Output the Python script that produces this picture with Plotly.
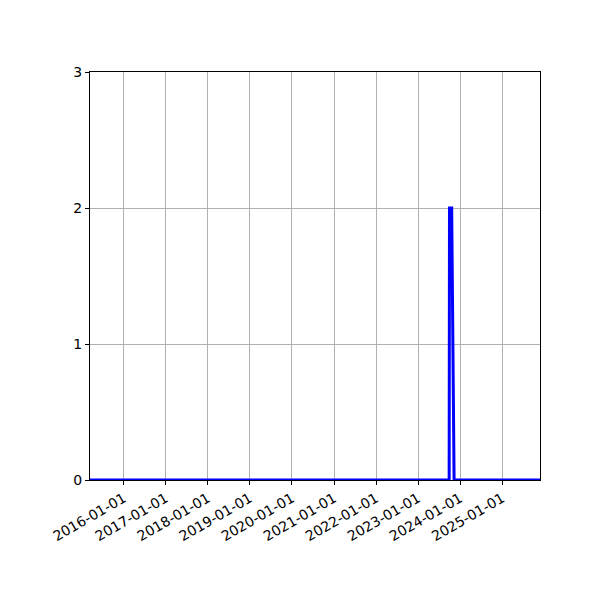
import plotly.graph_objects as go

# data
dates = ["2015-03-15", "2023-09-28", "2023-10-01", "2023-10-20", "2023-11-10", "2025-11-25"]
counts = [0, 0, 2, 2, 0, 0]
tick_dates = [f"{y}-01-01" for y in range(2016, 2026)]
y_ticks = [0, 1, 2, 3]

fig = go.Figure()
fig.add_trace(go.Scatter(x=dates, y=counts, mode="lines",
                         line=dict(color="#0000ff", width=3), showlegend=False))

axis_common = dict(showline=True, linecolor="black", linewidth=1, mirror=True,
                   ticks="outside", ticklen=4, tickcolor="black",
                   showgrid=True, gridcolor="#b0b0b0", gridwidth=1, zeroline=False)
fig.update_xaxes(range=["2015-03-15", "2025-11-25"], tickvals=tick_dates,
                 ticktext=tick_dates, tickangle=-30, **axis_common)
fig.update_yaxes(range=[0, 3], tickvals=y_ticks, **axis_common)

# page body has an 8px margin, so the margins are trimmed to match
fig.update_layout(
    width=600, height=600,
    margin=dict(l=82, r=68, t=64, b=128),
    plot_bgcolor="white", paper_bgcolor="white",
    font=dict(family="DejaVu Sans", size=14, color="black"),
)
fig.write_html("out.html")
